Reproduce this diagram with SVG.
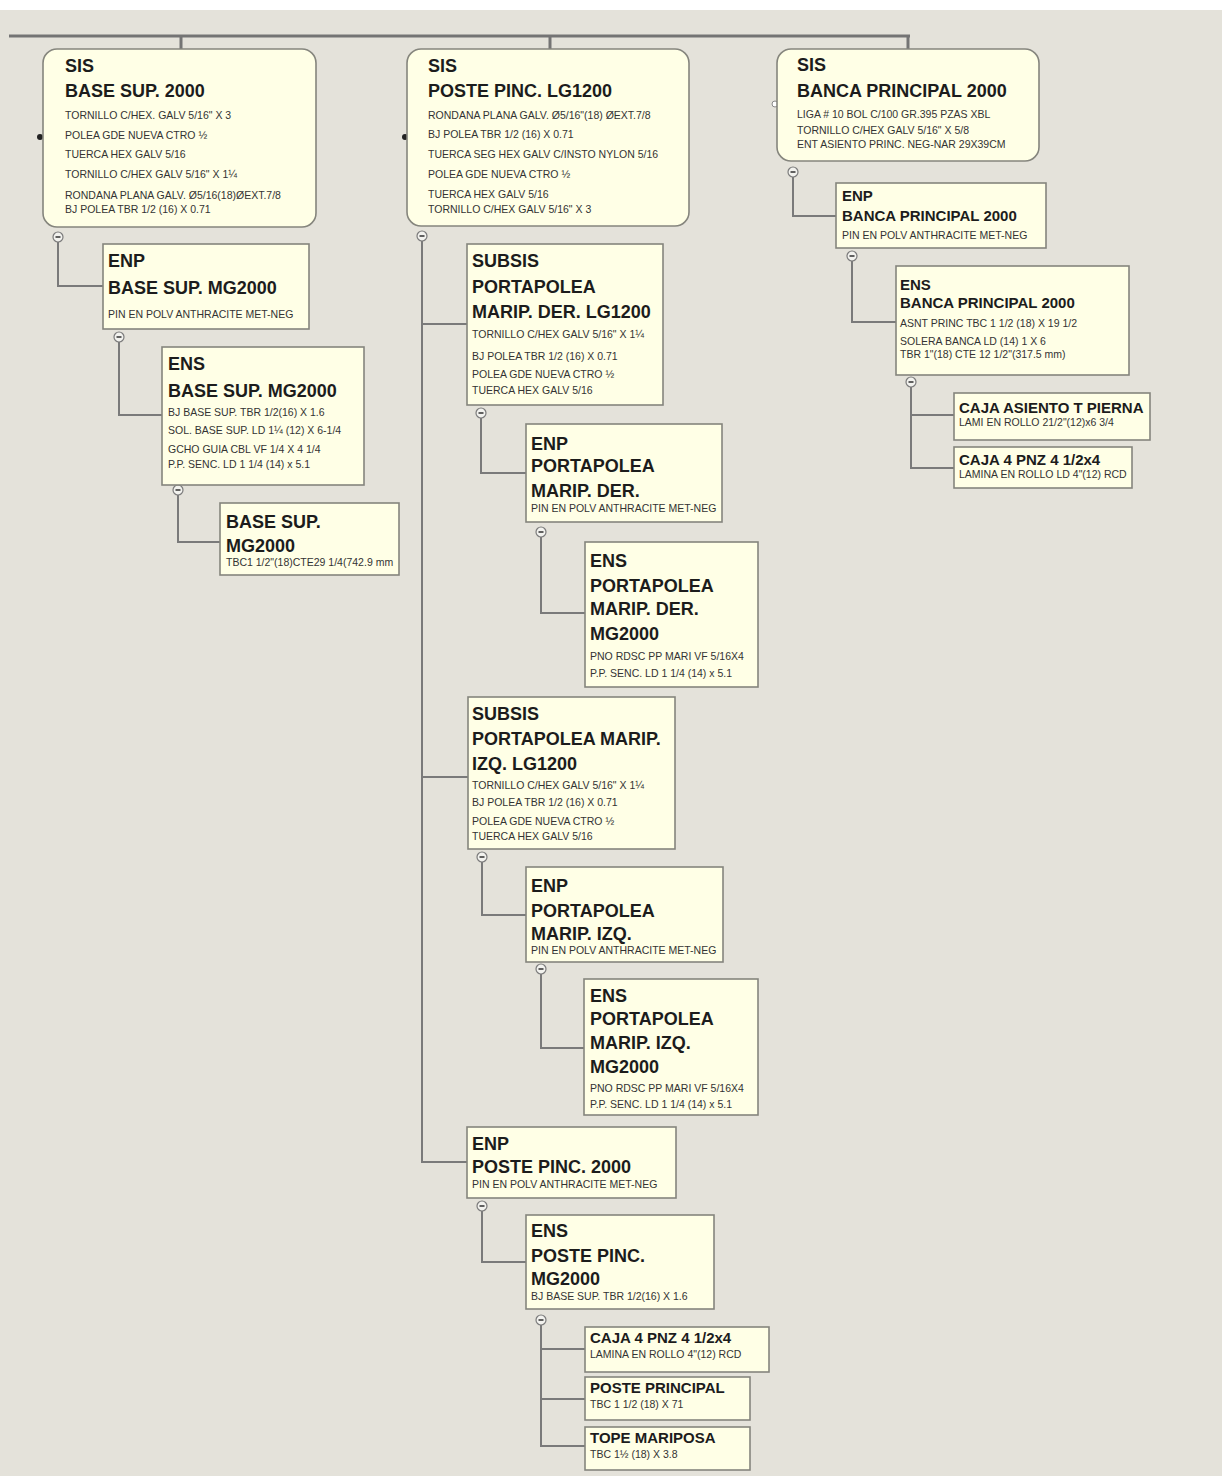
<svg xmlns="http://www.w3.org/2000/svg" width="1222" height="1476" viewBox="0 0 1222 1476">
<style>
.bg{fill:#e4e2da}
.box{fill:#ffffe6;stroke:#85857d;stroke-width:1.6}
.t{font-family:"Liberation Sans",Arial,sans-serif;font-weight:bold;font-size:18px;fill:#1c1c1c}
.t15{font-size:15px}
.s{font-family:"Liberation Sans",Arial,sans-serif;font-size:10.5px;fill:#333333}
.c{fill:none;stroke:#7a7a7a;stroke-width:2}
.top{fill:none;stroke:#747474;stroke-width:3}
.mc{fill:#f2f2ee;stroke:#7c7c7c;stroke-width:1.2}
.mm{stroke:#222;stroke-width:1.4}
</style>
<defs>
<g id="minus"><circle class="mc" r="5"/><line class="mm" x1="-2.5" y1="0" x2="2.5" y2="0"/></g>
</defs>
<rect x="0" y="0" width="1222" height="1476" fill="#ffffff"/>
<rect class="bg" x="0" y="10" width="1222" height="1466"/>

<g id="connectors">
<path class="top" d="M9 36H910M181 36V49M550 36V49M908 36V49"/>
<path class="c" d="M58 242V286H103"/>
<path class="c" d="M119 342V415H162"/>
<path class="c" d="M178 495V542H220"/>
<path class="c" d="M422 241V1162H467M422 324H467M422 777H468"/>
<path class="c" d="M481 418V473H526"/>
<path class="c" d="M541 537V613H585"/>
<path class="c" d="M482 862V915H526"/>
<path class="c" d="M541 974V1048H584"/>
<path class="c" d="M482 1211V1262H526"/>
<path class="c" d="M541 1325V1446H585M541 1349H585M541 1399H585"/>
<path class="c" d="M793 177V216H836"/>
<path class="c" d="M852 261V322H896"/>
<path class="c" d="M911 387V468H954M911 415H954"/>
<circle cx="40" cy="137" r="3" fill="#222"/>
<circle cx="405" cy="137" r="3" fill="#222"/>
<circle cx="775" cy="104" r="3" fill="#fff" stroke="#888"/>
<use href="#minus" x="58" y="237"/>
<use href="#minus" x="422" y="236"/>
<use href="#minus" x="793" y="172"/>
<use href="#minus" x="119" y="337"/>
<use href="#minus" x="178" y="490"/>
<use href="#minus" x="481" y="413"/>
<use href="#minus" x="541" y="532"/>
<use href="#minus" x="482" y="857"/>
<use href="#minus" x="541" y="969"/>
<use href="#minus" x="482" y="1206"/>
<use href="#minus" x="541" y="1320"/>
<use href="#minus" x="852" y="256"/>
<use href="#minus" x="911" y="382"/>
</g>

<g id="sis-base-sup">
<rect class="box" x="43" y="49" width="273" height="178" rx="14"/>
<text class="t" x="65" y="72">SIS</text>
<text class="t" x="65" y="97">BASE SUP. 2000</text>
<text class="s" x="65" y="119">TORNILLO C/HEX. GALV 5/16" X 3</text>
<text class="s" x="65" y="139">POLEA GDE NUEVA CTRO ½</text>
<text class="s" x="65" y="158">TUERCA HEX GALV 5/16</text>
<text class="s" x="65" y="178">TORNILLO C/HEX GALV 5/16"  X 1¼</text>
<text class="s" x="65" y="199">RONDANA PLANA GALV. Ø5/16(18)ØEXT.7/8</text>
<text class="s" x="65" y="213">BJ POLEA TBR 1/2 (16) X 0.71</text>
</g>

<g id="sis-poste-pinc">
<rect class="box" x="407" y="49" width="282" height="177" rx="14"/>
<text class="t" x="428" y="72">SIS</text>
<text class="t" x="428" y="97">POSTE PINC. LG1200</text>
<text class="s" x="428" y="119">RONDANA PLANA GALV. Ø5/16"(18) ØEXT.7/8</text>
<text class="s" x="428" y="138">BJ POLEA TBR 1/2 (16) X 0.71</text>
<text class="s" x="428" y="158">TUERCA SEG HEX GALV C/INSTO NYLON 5/16</text>
<text class="s" x="428" y="178">POLEA GDE NUEVA CTRO ½</text>
<text class="s" x="428" y="198">TUERCA HEX GALV 5/16</text>
<text class="s" x="428" y="213">TORNILLO C/HEX  GALV 5/16" X 3</text>
</g>

<g id="sis-banca">
<rect class="box" x="777" y="49" width="262" height="112" rx="14"/>
<text class="t" x="797" y="71">SIS</text>
<text class="t" x="797" y="97">BANCA PRINCIPAL 2000</text>
<text class="s" x="797" y="118">LIGA # 10 BOL C/100 GR.395 PZAS XBL</text>
<text class="s" x="797" y="134">TORNILLO  C/HEX GALV 5/16" X 5/8</text>
<text class="s" x="797" y="148">ENT ASIENTO PRINC. NEG-NAR 29X39CM</text>
</g>

<g id="enp-base-sup">
<rect class="box" x="103" y="244" width="206" height="85"/>
<text class="t" x="108" y="267">ENP</text>
<text class="t" x="108" y="294">BASE SUP. MG2000</text>
<text class="s" x="108" y="318">PIN EN POLV ANTHRACITE MET-NEG</text>
</g>

<g id="ens-base-sup">
<rect class="box" x="162" y="347" width="202" height="138"/>
<text class="t" x="168" y="370">ENS</text>
<text class="t" x="168" y="397">BASE SUP. MG2000</text>
<text class="s" x="168" y="416">BJ BASE SUP. TBR 1/2(16) X 1.6</text>
<text class="s" x="168" y="434">SOL. BASE SUP. LD 1¼ (12)  X 6-1/4</text>
<text class="s" x="168" y="453">GCHO GUIA CBL VF 1/4 X 4 1/4</text>
<text class="s" x="168" y="468">P.P. SENC. LD 1 1/4 (14) x 5.1</text>
</g>

<g id="base-sup-mg2000">
<rect class="box" x="220" y="503" width="179" height="72"/>
<text class="t" x="226" y="528">BASE SUP.</text>
<text class="t" x="226" y="552">MG2000</text>
<text class="s" x="226" y="566">TBC1 1/2"(18)CTE29 1/4(742.9 mm</text>
</g>

<g id="subsis-der">
<rect class="box" x="467" y="244" width="196" height="161"/>
<text class="t" x="472" y="267">SUBSIS</text>
<text class="t" x="472" y="293">PORTAPOLEA</text>
<text class="t" x="472" y="318">MARIP. DER. LG1200</text>
<text class="s" x="472" y="338">TORNILLO C/HEX GALV 5/16"  X 1¼</text>
<text class="s" x="472" y="360">BJ POLEA TBR 1/2 (16) X 0.71</text>
<text class="s" x="472" y="378">POLEA GDE NUEVA CTRO ½</text>
<text class="s" x="472" y="394">TUERCA HEX GALV 5/16</text>
</g>

<g id="enp-der">
<rect class="box" x="526" y="424" width="196" height="98"/>
<text class="t" x="531" y="450">ENP</text>
<text class="t" x="531" y="472">PORTAPOLEA</text>
<text class="t" x="531" y="497">MARIP. DER.</text>
<text class="s" x="531" y="512">PIN EN POLV ANTHRACITE MET-NEG</text>
</g>

<g id="ens-der">
<rect class="box" x="585" y="542" width="173" height="145"/>
<text class="t" x="590" y="567">ENS</text>
<text class="t" x="590" y="592">PORTAPOLEA</text>
<text class="t" x="590" y="615">MARIP. DER.</text>
<text class="t" x="590" y="640">MG2000</text>
<text class="s" x="590" y="660">PNO RDSC PP MARI VF 5/16X4</text>
<text class="s" x="590" y="677">P.P. SENC. LD 1 1/4 (14) x 5.1</text>
</g>

<g id="subsis-izq">
<rect class="box" x="468" y="697" width="207" height="152"/>
<text class="t" x="472" y="720">SUBSIS</text>
<text class="t" x="472" y="745">PORTAPOLEA MARIP.</text>
<text class="t" x="472" y="770">IZQ. LG1200</text>
<text class="s" x="472" y="789">TORNILLO C/HEX GALV 5/16"  X 1¼</text>
<text class="s" x="472" y="806">BJ POLEA TBR 1/2 (16) X 0.71</text>
<text class="s" x="472" y="825">POLEA GDE NUEVA CTRO ½</text>
<text class="s" x="472" y="840">TUERCA HEX GALV 5/16</text>
</g>

<g id="enp-izq">
<rect class="box" x="526" y="867" width="197" height="95"/>
<text class="t" x="531" y="892">ENP</text>
<text class="t" x="531" y="917">PORTAPOLEA</text>
<text class="t" x="531" y="940">MARIP. IZQ.</text>
<text class="s" x="531" y="954">PIN EN POLV ANTHRACITE MET-NEG</text>
</g>

<g id="ens-izq">
<rect class="box" x="584" y="979" width="174" height="136"/>
<text class="t" x="590" y="1002">ENS</text>
<text class="t" x="590" y="1025">PORTAPOLEA</text>
<text class="t" x="590" y="1049">MARIP. IZQ.</text>
<text class="t" x="590" y="1073">MG2000</text>
<text class="s" x="590" y="1092">PNO RDSC PP MARI VF 5/16X4</text>
<text class="s" x="590" y="1108">P.P. SENC. LD 1 1/4 (14) x 5.1</text>
</g>

<g id="enp-poste">
<rect class="box" x="467" y="1127" width="209" height="71"/>
<text class="t" x="472" y="1150">ENP</text>
<text class="t" x="472" y="1173">POSTE PINC. 2000</text>
<text class="s" x="472" y="1188">PIN EN POLV ANTHRACITE MET-NEG</text>
</g>

<g id="ens-poste">
<rect class="box" x="526" y="1215" width="188" height="94"/>
<text class="t" x="531" y="1237">ENS</text>
<text class="t" x="531" y="1262">POSTE PINC.</text>
<text class="t" x="531" y="1285">MG2000</text>
<text class="s" x="531" y="1300">BJ BASE SUP. TBR 1/2(16) X 1.6</text>
</g>

<g id="caja-4pnz-m">
<rect class="box" x="585" y="1327" width="184" height="45"/>
<text class="t t15" x="590" y="1343">CAJA 4 PNZ 4 1/2x4</text>
<text class="s" x="590" y="1358">LAMINA EN ROLLO 4"(12) RCD</text>
</g>

<g id="poste-principal">
<rect class="box" x="585" y="1377" width="165" height="43"/>
<text class="t t15" x="590" y="1393">POSTE PRINCIPAL</text>
<text class="s" x="590" y="1408">TBC 1 1/2 (18) X 71</text>
</g>

<g id="tope-mariposa">
<rect class="box" x="585" y="1427" width="165" height="43"/>
<text class="t t15" x="590" y="1443">TOPE MARIPOSA</text>
<text class="s" x="590" y="1458">TBC 1½ (18) X 3.8</text>
</g>

<g id="enp-banca">
<rect class="box" x="836" y="183" width="210" height="65"/>
<text class="t t15" x="842" y="201">ENP</text>
<text class="t t15" x="842" y="221">BANCA PRINCIPAL 2000</text>
<text class="s" x="842" y="239">PIN EN POLV ANTHRACITE MET-NEG</text>
</g>

<g id="ens-banca">
<rect class="box" x="896" y="266" width="233" height="109"/>
<text class="t t15" x="900" y="290">ENS</text>
<text class="t t15" x="900" y="308">BANCA PRINCIPAL 2000</text>
<text class="s" x="900" y="327">ASNT PRINC  TBC 1 1/2  (18) X 19 1/2</text>
<text class="s" x="900" y="345">SOLERA BANCA LD (14) 1 X 6</text>
<text class="s" x="900" y="358">TBR 1"(18) CTE 12 1/2"(317.5 mm)</text>
</g>

<g id="caja-asiento">
<rect class="box" x="954" y="393" width="196" height="47"/>
<text class="t t15" x="959" y="413">CAJA ASIENTO T PIERNA</text>
<text class="s" x="959" y="426">LAMI EN ROLLO 21/2"(12)x6 3/4</text>
</g>

<g id="caja-4pnz-r">
<rect class="box" x="954" y="447" width="178" height="41"/>
<text class="t t15" x="959" y="465">CAJA 4 PNZ 4 1/2x4</text>
<text class="s" x="959" y="478">LAMINA EN ROLLO LD 4"(12) RCD</text>
</g>
</svg>
